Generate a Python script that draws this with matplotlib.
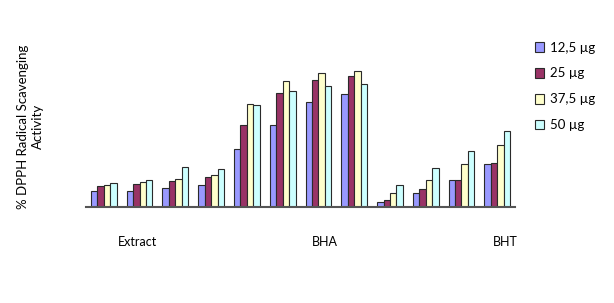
import matplotlib.pyplot as plt
import numpy as np
from matplotlib.patches import Patch

# % DPPH radical scavenging activity, 12 samples
series = ["12,5 µg", "25 µg", "37,5 µg", "50 µg"]
colors = ["#9999FF", "#993366", "#FFFFCC", "#CCFFFF"]

v125 = [10.7, 10.7, 12.7, 14.5, 38.7, 54.7, 69.8, 75.3, 3.3, 9.5, 17.8, 28.9]
v25 = [14.0, 15.5, 17.5, 19.8, 54.7, 75.8, 84.7, 87.5, 4.9, 12.0, 18.0, 29.3]
v375 = [14.9, 16.5, 18.7, 21.1, 68.5, 84.0, 89.1, 90.9, 9.1, 18.0, 28.5, 41.1]
v50 = [15.8, 17.8, 26.5, 25.3, 67.8, 77.3, 80.7, 82.0, 14.9, 25.8, 37.5, 50.5]
values = [v125, v25, v375, v50]

group_labels = ["Extract", "BHA", "BHT"]
group_label_pos = [0.95, 6.19, 11.22]

plt.rcParams["font.family"] = ["Lato", "DejaVu Sans"]

fig = plt.figure(figsize=(6.14, 3.03), dpi=100)
ax = fig.add_axes([0.14, 0.317, 0.699, 0.617])

x = np.arange(len(v125))
w = 0.18
for i in range(4):
    ax.bar(x + (i - 1.5) * w, values[i], width=w, color=colors[i],
           edgecolor="#2a2a2a", linewidth=0.8)

ax.set_xlim(-0.5, 11.5)
ax.set_ylim(0, 124.7)
for s in ["top", "right", "left"]:
    ax.spines[s].set_visible(False)
ax.spines["bottom"].set_color("#555555")
ax.spines["bottom"].set_linewidth(1.5)
ax.set_yticks([])
ax.set_xticks(group_label_pos)
ax.set_xticklabels(group_labels, fontsize=9)
ax.tick_params(axis="x", length=0, pad=21)

fig.text(0.05, 0.583, "% DPPH Radical Scavenging\nActivity", rotation=90,
         ha="center", va="center", multialignment="center",
         fontsize=9.5, linespacing=1.35)

handles = [Patch(facecolor=c, edgecolor="#2a2a2a", linewidth=0.8) for c in colors]
fig.legend(handles, series, loc="upper left", bbox_to_anchor=(0.862, 0.88),
           frameon=False, fontsize=9.5, handlelength=0.75, handleheight=0.75,
           handletextpad=0.4, labelspacing=1.05, borderaxespad=0)

plt.savefig("out.png", dpi=100)
